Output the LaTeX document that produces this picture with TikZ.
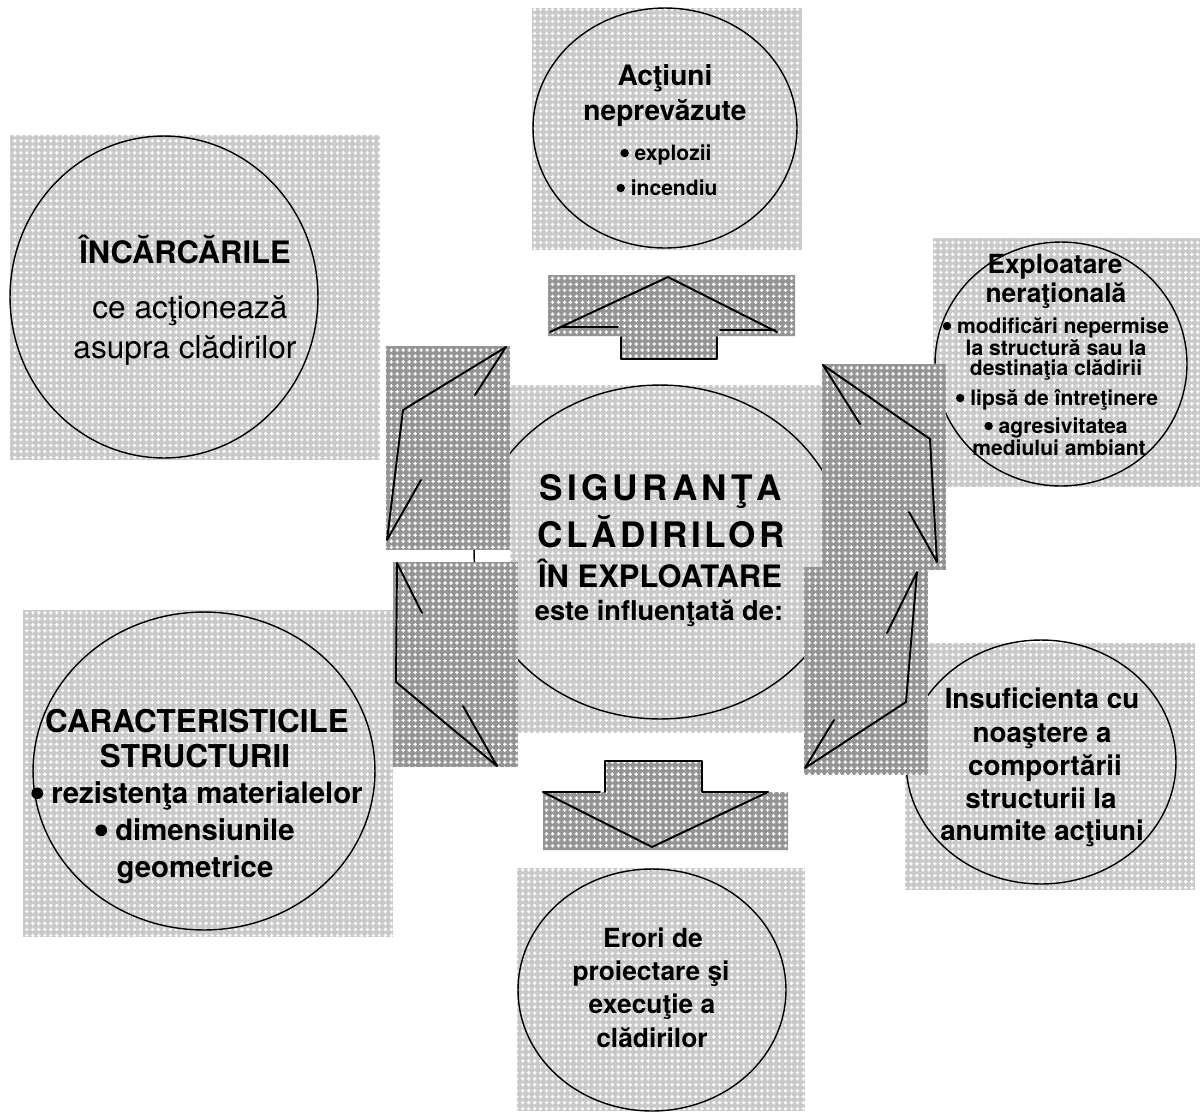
\documentclass[tikz,border=0pt]{standalone}
\usepackage{fontspec}
\setmainfont{TeX Gyre Heros}
\usetikzlibrary{patterns,shapes.geometric}

% white crosses on a grey ground
\pgfdeclarepatternformonly{plusgrid}{\pgfqpoint{-0.1pt}{-0.1pt}}{\pgfqpoint{3.5pt}{3.5pt}}{\pgfqpoint{3.4pt}{3.4pt}}{
  \pgfpathrectangle{\pgfqpoint{0.7pt}{1.35pt}}{\pgfqpoint{2pt}{0.7pt}}
  \pgfpathrectangle{\pgfqpoint{1.35pt}{0.7pt}}{\pgfqpoint{0.7pt}{2pt}}
  \pgfusepath{fill}}

\newcommand{\fsz}[1]{\fontsize{#1}{#1}\selectfont}
% a fat list dot
\newcommand{\blt}{\tikz[baseline=0pt]\fill (0,0.33em) circle (0.2em);}

\begin{document}
\begin{tikzpicture}[x=0.02cm, y=-0.02cm,
    lightbg/.style={fill=black!21, postaction={pattern=plusgrid, pattern color=white}},
    darkbg/.style={fill=black!42, postaction={pattern=plusgrid, pattern color=white}},
    oval/.style 2 args={ellipse, draw, line width=0.8pt, inner sep=0pt,
                        minimum width=#1cm, minimum height=#2cm},
    rim/.style={line width=1.1pt, line join=round, line cap=round},
    lbl/.style={anchor=base, inner sep=0pt, font=\bfseries\fsz{#1}},
    txt/.style={anchor=base, inner sep=0pt, font=\fsz{#1}}]
  \fill[white] (0,0) rectangle (1201,1111);

  % grounds behind the ovals
  \path[lightbg] (532,8) rectangle (802,250);
  \path[lightbg] (10,135) rectangle (380,460);
  \path[lightbg] (933,238) rectangle (1200,487);
  \path[lightbg] (510,385) rectangle (836,733);
  \path[lightbg] (905,643) rectangle (1195,890);
  \path[lightbg] (23,610) rectangle (393,937);
  \path[lightbg] (517,868) rectangle (805,1111);

  % ovals
  \node[oval={5.28}{4.8}]  (act)  at (665,128) {};
  \node[oval={6.16}{6.44}] (inc)  at (164,297) {};
  \node[oval={5.04}{4.88}] (expl) at (1061,364) {};
  \node[oval={7.44}{6.68}] (sig)  at (660,552) {};
  \node[oval={5.4}{4.88}]  (ins)  at (1041,762) {};
  \node[oval={6.84}{6.36}] (car)  at (204,771) {};
  \node[oval={5.36}{4.84}] (err)  at (652,990) {};

  % block arrows
  \path[darkbg] (548,275) rectangle (795,336) (621,336) rectangle (717,359);
  \path[darkbg] (543,792) rectangle (788,850) (605,761) rectangle (702,792);
  \path[darkbg] (386,346) rectangle (510,550);
  \path[darkbg] (822,364) rectangle (946,570);
  \path[darkbg] (804,567) rectangle (928,775);
  \path[darkbg] (393,562) rectangle (518,767);

  % up
  \draw[rim] (550,332) -- (668,277) -- (777,332);
  \draw[rim] (560,327) -- (618,327) (720,330) -- (775,330);
  \draw[rim] (621,337) -- (621,359) -- (717,359) -- (717,337);
  % down
  \draw[rim] (605,792) -- (605,761) -- (702,761) -- (702,792) -- (768,792);
  \draw[rim] (543,792) -- (600,792);
  \draw[rim] (543,792) -- (652,847) -- (768,792);
  % four bent ones
  \draw[rim] (387,540) -- (403,410) -- (506,347) -- (475,395) (387,540) -- (421,480);
  \draw[rim] (823,365) -- (930,439) -- (937,562) -- (909,512) (823,365) -- (860,424);
  \draw[rim] (917,572) -- (906,702) -- (805,768) -- (834,720) (917,572) -- (887,633);
  \draw[rim] (397,563) -- (396,682) -- (497,766) -- (463,706) (397,563) -- (422,613);

  % Actiuni neprevazute
  \node[lbl=16] (act1) at (665,85)  {Acţiuni};
  \node[lbl=16] (act2) at (665,120) {neprevăzute};
  \node[lbl=12] (act3) at (666,160) {\blt{} explozii};
  \node[lbl=12] (act4) at (667,195) {\blt{} incendiu};

  % Incarcarile
  \node[lbl=17.6] (inc1) at (185,263) {ÎNCĂRCĂRILE};
  \node[txt=18]   (inc2) at (190,318) {ce acţionează};
  \node[txt=18]   (inc3) at (185,358) {asupra clădirilor};

  % Exploatare nerationala
  \node[lbl=15] (expl1) at (1055,273) {Exploatare};
  \node[lbl=15] (expl2) at (1056,302) {neraţională};
  \node[lbl=12] (expl3) at (1056,333) {\blt{} modificări nepermise};
  \node[lbl=12] (expl4) at (1056,355) {la structură sau la};
  \node[lbl=12] (expl5) at (1056,375) {destinaţia clădirii};
  \node[lbl=12] (expl6) at (1057,405) {\blt{} lipsă de întreţinere};
  \node[lbl=12] (expl7) at (1056,433) {\blt{} agresivitatea};
  \node[lbl=12] (expl8) at (1059,455) {mediului ambiant};

  % centre
  \node[lbl=20] (sig1) at (661,500) {\addfontfeature{LetterSpace=12}SIGURANŢA};
  \node[lbl=20] (sig2) at (661,547) {\addfontfeature{LetterSpace=10}CLĂDIRILOR};
  \node[lbl=17.6] (sig3) at (660,587) {ÎN EXPLOATARE};
  \node[lbl=15.5] (sig4) at (659,620) {este influenţată de:};

  % Insuficienta
  \node[lbl=15.8] (ins1) at (1042,708) {Insuficienta cu};
  \node[lbl=15.8] (ins2) at (1042,742) {noaştere a};
  \node[lbl=15.8] (ins3) at (1045,775) {comportării};
  \node[lbl=15.8] (ins4) at (1041,808) {structurii la};
  \node[lbl=15.8] (ins5) at (1042,840) {anumite acţiuni};

  % Caracteristicile
  \node[lbl=17.9] (car1) at (197,732) {CARACTERISTICILE};
  \node[lbl=17.9] (car2) at (195,767) {STRUCTURII};
  \node[lbl=16.7] (car3) at (197,803) {\blt{} rezistenţa materialelor};
  \node[lbl=16.7] (car4) at (195,840) {\blt{} dimensiunile};
  \node[lbl=16.7] (car5) at (195,877) {geometrice};

  % Erori
  \node[lbl=15] (err1) at (653,947)  {Erori de};
  \node[lbl=15] (err2) at (651,980)  {proiectare şi};
  \node[lbl=15] (err3) at (652,1013) {execuţie a};
  \node[lbl=15] (err4) at (652,1047) {clădirilor};
\end{tikzpicture}
\end{document}
